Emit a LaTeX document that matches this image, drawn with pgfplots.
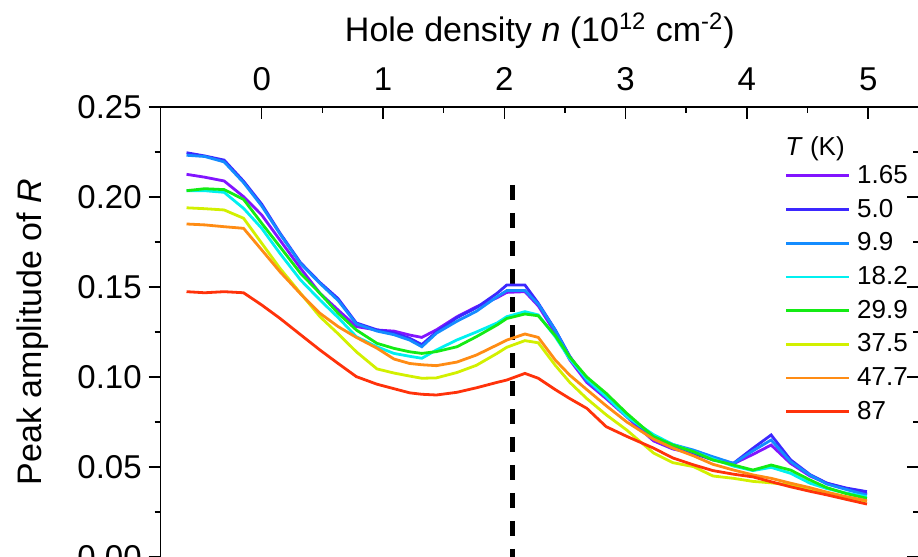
\documentclass[border=0pt]{standalone}
\usepackage{fontspec}
\setmainfont{Liberation Sans}
\usepackage{pgfplots}
\usepackage{pgfplotstable}
\pgfplotsset{compat=1.18}

\definecolor{t1}{RGB}{130,20,255}
\definecolor{t2}{RGB}{60,40,255}
\definecolor{t3}{RGB}{20,140,255}
\definecolor{t4}{RGB}{0,240,240}
\definecolor{t5}{RGB}{20,235,20}
\definecolor{t6}{RGB}{210,240,0}
\definecolor{t7}{RGB}{255,140,20}
\definecolor{t8}{RGB}{255,50,10}

% peak amplitude vs hole density, one column per temperature
\pgfplotstableread{
n     a     b     c     d     e     f     g     h
-0.62 0.2126 0.2246 0.2232 0.2035 0.2035 0.1940 0.1850 0.1474
-0.47 0.2110 0.2228 0.2225 0.2035 0.2046 0.1935 0.1845 0.1468
-0.31 0.2089 0.2205 0.2195 0.2026 0.2041 0.1928 0.1835 0.1474
-0.15 0.2002 0.2088 0.2080 0.1937 0.1987 0.1882 0.1826 0.1468
0.00  0.1900 0.1960 0.1950 0.1826 0.1854 0.1743 0.1706 0.1400
0.15  0.1761 0.1800 0.1795 0.1687 0.1724 0.1604 0.1585 0.1326
0.32  0.1604 0.1635 0.1630 0.1539 0.1576 0.1465 0.1462 0.1235
0.48  0.1465 0.1525 0.1520 0.1428 0.1465 0.1335 0.1354 0.1150
0.63  0.1372 0.1435 0.1425 0.1330 0.1354 0.1240 0.1280 0.1075
0.78  0.1280 0.1300 0.1295 0.1224 0.1261 0.1140 0.1220 0.1002
0.95  0.1261 0.1262 0.1255 0.1168 0.1187 0.1045 0.1160 0.0960
1.09  0.1255 0.1245 0.1235 0.1131 0.1159 0.1022 0.1100 0.0935
1.22  0.1233 0.1215 0.1205 0.1115 0.1140 0.1005 0.1075 0.0912
1.32  0.1220 0.1180 0.1168 0.1104 0.1131 0.0993 0.1068 0.0904
1.44  0.1262 0.1250 0.1243 0.1150 0.1141 0.0995 0.1063 0.0900
1.61  0.1335 0.1330 0.1310 0.1206 0.1168 0.1025 0.1083 0.0915
1.77  0.1390 0.1385 0.1365 0.1250 0.1224 0.1065 0.1122 0.0940
1.94  0.1440 0.1465 0.1446 0.1300 0.1289 0.1131 0.1178 0.0970
2.02  0.1470 0.1511 0.1480 0.1335 0.1325 0.1165 0.1205 0.0983
2.17  0.1474 0.1511 0.1480 0.1363 0.1350 0.1202 0.1239 0.1020
2.28  0.1395 0.1410 0.1405 0.1345 0.1340 0.1190 0.1220 0.0993
2.42  0.1245 0.1262 0.1260 0.1224 0.1230 0.1065 0.1094 0.0930
2.54  0.1095 0.1115 0.1110 0.1100 0.1110 0.0970 0.1010 0.0880
2.68  0.0970 0.0985 0.0980 0.0990 0.1000 0.0880 0.0930 0.0826
2.84  0.0880 0.0890 0.0890 0.0891 0.0909 0.0790 0.0840 0.0724
3.01  0.0778 0.0785 0.0782 0.0780 0.0798 0.0705 0.0750 0.0670
3.23  0.0645 0.0665 0.0672 0.0680 0.0669 0.0578 0.0655 0.0605
3.39  0.0600 0.0615 0.0625 0.0625 0.0622 0.0524 0.0605 0.0550
3.56  0.0575 0.0576 0.0594 0.0585 0.0585 0.0502 0.0562 0.0512
3.72  0.0545 0.0539 0.0557 0.0545 0.0539 0.0450 0.0515 0.0480
3.89  0.0518 0.0521 0.0520 0.0505 0.0511 0.0437 0.0483 0.0460
4.05  0.0570 0.0604 0.0590 0.0480 0.0483 0.0420 0.0456 0.0445
4.20  0.0622 0.0678 0.0650 0.0498 0.0511 0.0412 0.0437 0.0418
4.36  0.0520 0.0540 0.0530 0.0465 0.0483 0.0400 0.0410 0.0390
4.52  0.0450 0.0458 0.0455 0.0410 0.0428 0.0370 0.0385 0.0365
4.66  0.0410 0.0410 0.0405 0.0380 0.0385 0.0350 0.0360 0.0345
4.82  0.0380 0.0383 0.0375 0.0355 0.0352 0.0330 0.0335 0.0320
4.99  0.0350 0.0363 0.0344 0.0335 0.0326 0.0310 0.0313 0.0294
}\amp

\newcommand{\legtxt}[1]{\hspace{3.2pt}#1}

\begin{document}
\begin{tikzpicture}
\pgfplotsset{
  base/.style={
    scale only axis, width=379.15pt, height=225pt,
    xmin=-0.833, xmax=5.419, ymin=0, ymax=0.25,
    axis line style={-, line width=0.75pt},
    major tick length=6pt, minor tick length=3pt,
    every tick/.style={black, line width=0.75pt},
    /pgf/number format/assume math mode=true,
    ticklabel style={font=\fontsize{16.5}{19}\selectfont},
    scaled ticks=false,
  },
}

\begin{axis}[base,
    axis y line*=left, hide x axis, tick align=outside,
    ytick={0,0.05,0.1,0.15,0.2,0.25}, minor y tick num=1,
    yticklabel style={/pgf/number format/.cd, fixed, fixed zerofill, precision=2},
    ylabel={Peak amplitude of \textit{R}},
    every axis y label/.style={at={(axis description cs:-0.169,0.5)}, rotate=90, anchor=center,
      font=\fontsize{17}{20}\selectfont},
    legend cell align=left,
    legend image code/.code={\draw[#1] (0pt,0pt) -- (31.5pt,0pt);},
    legend style={draw=none, fill=none, at={(axis description cs:0.8233,0.8844)}, anchor=north west,
      inner sep=0pt, outer sep=0pt, row sep=0pt, font=\fontsize{13}{15}\selectfont,
      nodes={inner sep=0pt, minimum height=16.85pt}},
]
\addplot[black, line width=2.5pt, dash pattern=on 7.5pt off 6.5pt, forget plot]
  coordinates {(2.07,0.2067) (2.07,0)};
\addplot[t1, line width=1.4pt] table[x=n, y=a] {\amp}; \addlegendentry{\legtxt{1.65}}
\addplot[t2, line width=1.4pt] table[x=n, y=b] {\amp}; \addlegendentry{\legtxt{5.0}}
\addplot[t3, line width=1.4pt] table[x=n, y=c] {\amp}; \addlegendentry{\legtxt{9.9}}
\addplot[t4, line width=1.4pt] table[x=n, y=d] {\amp}; \addlegendentry{\legtxt{18.2}}
\addplot[t5, line width=1.4pt] table[x=n, y=e] {\amp}; \addlegendentry{\legtxt{29.9}}
\addplot[t6, line width=1.4pt] table[x=n, y=f] {\amp}; \addlegendentry{\legtxt{37.5}}
\addplot[t7, line width=1.4pt] table[x=n, y=g] {\amp}; \addlegendentry{\legtxt{47.7}}
\addplot[t8, line width=1.4pt] table[x=n, y=h] {\amp}; \addlegendentry{\legtxt{87}}
\node[anchor=base west, inner sep=0pt, font=\fontsize{13}{15}\selectfont]
  at (axis description cs:0.8233,0.8933) {\textit{T} (K)};
\end{axis}

\begin{axis}[base,
    axis x line*=top, hide y axis, tick align=inside,
    xtick={0,1,2,3,4,5}, minor x tick num=1,
    xticklabel style={yshift=4.5pt},
    xlabel={Hole density \textit{n} (10\textsuperscript{12} cm\textsuperscript{-2})},
    every axis x label/.style={at={(axis description cs:0.5,1)}, anchor=base, yshift=32.5pt,
      font=\fontsize{17}{20}\selectfont},
]
\end{axis}

\begin{axis}[base,
    axis y line*=right, hide x axis, tick align=inside,
    ytick={0,0.05,0.1,0.15,0.2,0.25}, minor y tick num=1, yticklabels={},
]
\end{axis}

\pgfresetboundingbox
\path[use as bounding box] (-80.35pt,0pt) rectangle (378.65pt,278.5pt);
\end{tikzpicture}
\end{document}
